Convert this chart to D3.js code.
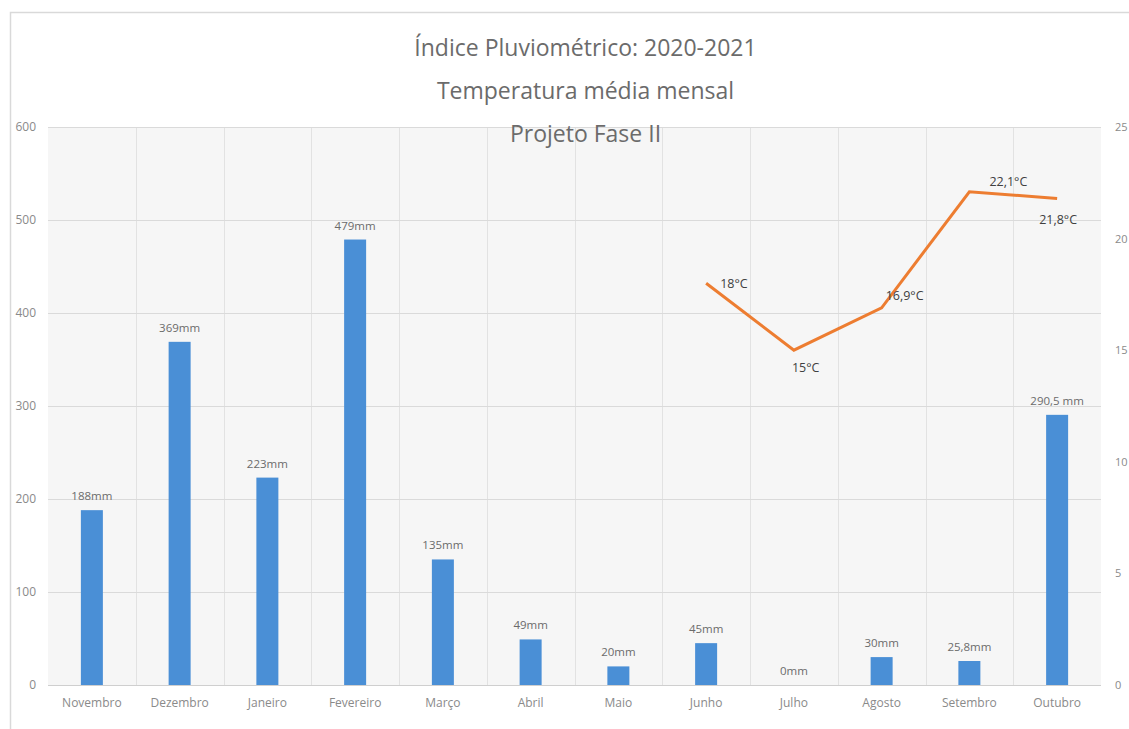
<!DOCTYPE html>
<meta charset="utf-8">
<title>Índice Pluviométrico 2020-2021</title>
<style>
  body { margin: 0; background: #fff; }
  text { font-family: "Open Sans", sans-serif; }
  .title { fill: #6b6b6b; font-size: 23px; }
  .tick text { fill: #8a8a8a; font-size: 12px; }
  .right .tick text { font-size: 11px; }
  .barlabel { fill: #6b6b6b; font-size: 11.5px; }
  .templabel { fill: #404040; font-size: 12.5px; }
</style>
<body>
<svg width="1129" height="729"></svg>
<script src="https://d3js.org/d3.v7.min.js"></script>
<script>
  // months (categories)
  var months = ["Novembro", "Dezembro", "Janeiro", "Fevereiro", "Março", "Abril",
    "Maio", "Junho", "Julho", "Agosto", "Setembro", "Outubro"];
  // rainfall in mm
  var rain = [188, 369, 223, 479, 135, 49, 20, 45, 0, 30, 25.8, 290.5];
  var rainLabels = ["188mm", "369mm", "223mm", "479mm", "135mm", "49mm", "20mm",
    "45mm", "0mm", "30mm", "25,8mm", "290,5 mm"];
  // mean temperature (only Junho..Outubro)
  var tempMonths = ["Junho", "Julho", "Agosto", "Setembro", "Outubro"];
  var temp = [18, 15, 16.9, 22.1, 21.8];
  var tempLabels = ["18°C", "15°C", "16,9°C", "22,1°C", "21,8°C"];
  var leftTicks = [0, 100, 200, 300, 400, 500, 600];
  var rightTicks = [0, 5, 10, 15, 20, 25];
  var titleLines = ["Índice Pluviométrico: 2020-2021", "Temperatura média mensal", "Projeto Fase II"];

  const svg = d3.select('svg'),
    width = +svg.attr('width'),
    height = +svg.attr('height');

  var plotL = 48, plotR = 1101, plotT = 127, plotB = 685;

  // outer frame (partly cropped in the original)
  svg.append("path")
    .attr("d", "M10.5," + height + "V12.5H" + width)
    .attr("fill", "none")
    .attr("stroke", "#d9d9d9")
    .attr("stroke-width", 1.5);

  var x = d3.scaleBand().domain(months).range([plotL, plotR]);
  var y = d3.scaleLinear().domain([0, 600]).range([plotB, plotT]);
  var yT = d3.scaleLinear().domain([0, 25]).range([plotB, plotT]);

  // plot background
  svg.append("rect")
    .attr("x", plotL).attr("y", plotT)
    .attr("width", plotR - plotL).attr("height", plotB - plotT)
    .attr("fill", "#f6f6f6");

  // vertical grid at band boundaries
  svg.append("g").selectAll("line")
    .data(months.slice(1))
    .enter().append("line")
    .attr("x1", d => Math.round(x(d)) + 0.5)
    .attr("x2", d => Math.round(x(d)) + 0.5)
    .attr("y1", plotT).attr("y2", plotB)
    .attr("stroke", "#e2e2e2");

  // horizontal grid
  svg.append("g").selectAll("line")
    .data(leftTicks)
    .enter().append("line")
    .attr("x1", plotL).attr("x2", plotR)
    .attr("y1", d => Math.round(y(d)) + 0.5)
    .attr("y2", d => Math.round(y(d)) + 0.5)
    .attr("stroke", d => d === 0 ? "#cfcfcf" : "#dadada");

  // left axis
  svg.append("g")
    .attr("transform", "translate(" + (plotL - 6) + ",0)")
    .call(d3.axisLeft(y).tickValues(leftTicks).tickSize(0).tickPadding(6))
    .call(g => g.select(".domain").remove());

  // right axis (temperature)
  svg.append("g")
    .attr("class", "right")
    .attr("transform", "translate(" + (plotR + 11) + ",0)")
    .call(d3.axisRight(yT).tickValues(rightTicks).tickSize(0).tickPadding(3))
    .call(g => g.select(".domain").remove());

  // bottom axis
  svg.append("g")
    .attr("transform", "translate(0," + plotB + ")")
    .call(d3.axisBottom(x).tickSize(0).tickPadding(13))
    .call(g => g.select(".domain").remove());

  // bars
  var barW = 22;
  svg.append("g").selectAll("rect")
    .data(rain)
    .enter().append("rect")
    .attr("x", (d, i) => x(months[i]) + x.bandwidth() / 2 - barW / 2)
    .attr("y", d => y(d))
    .attr("width", barW)
    .attr("height", d => plotB - y(d))
    .attr("fill", "#4a8fd6");

  svg.append("g").selectAll("text")
    .data(rain)
    .enter().append("text")
    .attr("class", "barlabel")
    .attr("x", (d, i) => x(months[i]) + x.bandwidth() / 2)
    .attr("y", d => y(d) - 10)
    .attr("text-anchor", "middle")
    .text((d, i) => rainLabels[i]);

  // temperature line
  var line = d3.line()
    .x((d, i) => x(tempMonths[i]) + x.bandwidth() / 2)
    .y(d => yT(d));

  svg.append("path")
    .datum(temp)
    .attr("d", line)
    .attr("fill", "none")
    .attr("stroke", "#ed7d31")
    .attr("stroke-width", 3);

  // label placement like the original (right, below, right, above, below-right)
  var place = [[14, 5], [-2, 22], [4, -8], [20, -6], [-18, 26]];
  svg.append("g").selectAll("text")
    .data(temp)
    .enter().append("text")
    .attr("class", "templabel")
    .attr("x", (d, i) => x(tempMonths[i]) + x.bandwidth() / 2 + place[i][0])
    .attr("y", d => yT(d))
    .attr("dy", (d, i) => place[i][1])
    .text((d, i) => tempLabels[i]);

  // title
  svg.append("g").selectAll("text")
    .data(titleLines)
    .enter().append("text")
    .attr("class", "title")
    .attr("x", (plotL + plotR) / 2 + 11)
    .attr("y", (d, i) => 56 + i * 43)
    .attr("text-anchor", "middle")
    .text(d => d);
</script>
</body>
